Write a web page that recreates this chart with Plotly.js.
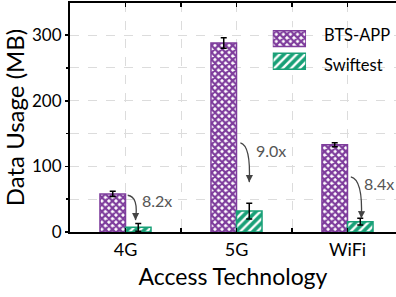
<!DOCTYPE html>
<html><head><meta charset="utf-8">
<script src="https://cdn.plot.ly/plotly-3.0.1.min.js"></script>
<style>html,body{margin:0;padding:0;background:#fff}#chart{width:396px;height:297px}</style>
</head><body><div id="chart"></div>
<script>
const categories = ['4G', '5G', 'WiFi'];
const seriesNames = ['BTS-APP', 'Swiftest'];
const btsValues = [58, 288, 133];
const btsErrors = [4, 8, 3];
const swiftValues = [7.1, 32, 15.8];
const swiftErrors = [6, 12, 5];
const ratioLabels = ['8.2x', '9.0x', '8.4x'];
const yTickValues = [0, 100, 200, 300];

const PURPLE = '#7e3c9c';
const GREEN = '#18a077';
const FONT = 'Lato, "Open Sans", sans-serif';
const xIdx = categories.map((c, i) => i);

// arrow geometry (offsets from category index, y in data units)
const arrows = [
  {sx: 0.02, sy: 56, cx: 0.12, cy: 54, ex: 0.09, ey: 18, lx: 0.13, ly: 48},
  {sx: 1.035, sy: 136, cx: 1.13, cy: 132, ex: 1.115, ey: 76, lx: 1.16, ly: 124},
  {sx: 2.03, sy: 84, cx: 2.14, cy: 80, ex: 2.125, ey: 21, lx: 2.13, ly: 74}
];

const purplePattern = {shape: 'x', fillmode: 'replace', bgcolor: '#fff', fgcolor: PURPLE, size: 5, solidity: 0.7};
const greenPattern = {shape: '/', fillmode: 'replace', bgcolor: GREEN, fgcolor: '#fff', size: 6, solidity: 0.4};

const traces = [
  {
    type: 'bar', x: xIdx, y: btsValues, name: seriesNames[0], showlegend: false,
    error_y: {type: 'data', array: btsErrors, color: '#000', thickness: 1.5, width: 3},
    marker: {color: PURPLE, line: {color: PURPLE, width: 1.5}, pattern: purplePattern}
  },
  {
    type: 'bar', x: xIdx, y: swiftValues, name: seriesNames[1], showlegend: false,
    error_y: {type: 'data', array: swiftErrors, color: '#000', thickness: 1.5, width: 3},
    marker: {color: GREEN, line: {color: GREEN, width: 1.5}, pattern: greenPattern}
  },
  // legend swatches
  {
    type: 'bar', orientation: 'h', x: [1], y: [1], xaxis: 'x2', yaxis: 'y2', width: 0.7,
    showlegend: false, hoverinfo: 'skip',
    marker: {color: PURPLE, line: {color: PURPLE, width: 1.5}, pattern: purplePattern}
  },
  {
    type: 'bar', orientation: 'h', x: [1], y: [0], xaxis: 'x2', yaxis: 'y2', width: 0.7,
    showlegend: false, hoverinfo: 'skip',
    marker: {color: GREEN, line: {color: GREEN, width: 1.5}, pattern: greenPattern}
  }
];

const shapes = arrows.map(a => ({
  type: 'path', xref: 'x', yref: 'y',
  path: `M${a.sx},${a.sy} Q${a.cx},${a.cy} ${a.ex},${a.ey}`,
  line: {color: '#444', width: 1.3}
}));

const annotations = [];
arrows.forEach((a, i) => {
  annotations.push({
    x: a.ex, y: a.ey, ax: a.ex + 0.001, ay: a.ey + 8, xref: 'x', yref: 'y', axref: 'x', ayref: 'y',
    text: '', showarrow: true, arrowhead: 2, arrowsize: 1.1, arrowwidth: 1.3, arrowcolor: '#444', standoff: 0
  });
  annotations.push({
    x: a.lx, y: a.ly, xref: 'x', yref: 'y', text: ratioLabels[i], showarrow: false,
    xanchor: 'left', yanchor: 'middle', font: {family: FONT, size: 16, color: '#555'}
  });
});
// legend labels
annotations.push({x: 0.772, y: 0.859, xref: 'paper', yref: 'paper', text: seriesNames[0], showarrow: false,
  xanchor: 'left', yanchor: 'middle', font: {family: FONT, size: 16.5, color: '#000'}});
annotations.push({x: 0.772, y: 0.731, xref: 'paper', yref: 'paper', text: seriesNames[1], showarrow: false,
  xanchor: 'left', yanchor: 'middle', font: {family: FONT, size: 16.5, color: '#000'}});

const layout = {
  width: 396, height: 297,
  margin: {l: 70, r: 0, t: 3, b: 65},
  paper_bgcolor: '#fff', plot_bgcolor: '#fff',
  barmode: 'group', bargap: 0.54, bargroupgap: 0,
  font: {family: FONT, color: '#000'},
  xaxis: {
    range: [-0.5, 2.437], tickvals: xIdx, ticktext: categories,
    tickfont: {family: FONT, size: 18, color: '#000'},
    showline: true, linecolor: '#000', linewidth: 2, mirror: 'ticks',
    ticks: 'inside', ticklen: 4, tickcolor: '#000', tickwidth: 1.5,
    showgrid: true, gridcolor: '#dcdcdc', griddash: 'dash', gridwidth: 1,
    minor: {dtick: 0.5, tick0: 0.5, ticks: 'inside', ticklen: 4, tickcolor: '#000', showgrid: true, gridcolor: '#dcdcdc', griddash: 'dash'},
    zeroline: false,
    title: {text: 'Access Technology', font: {family: FONT, size: 23, color: '#000'}, standoff: 10}
  },
  yaxis: {
    range: [0, 349], tickvals: yTickValues,
    tickfont: {family: FONT, size: 17, color: '#000'},
    showline: true, linecolor: '#000', linewidth: 2,
    ticks: 'outside', ticklen: 3, tickcolor: '#000', tickwidth: 1.5,
    showgrid: true, gridcolor: '#dcdcdc', griddash: 'dash', gridwidth: 1,
    minor: {dtick: 50, ticks: 'outside', ticklen: 2, tickcolor: '#000', showgrid: true, gridcolor: '#dcdcdc', griddash: 'dash'},
    zeroline: false,
    title: {text: 'Data Usage (MB)', font: {family: FONT, size: 24, color: '#000'}, standoff: 4}
  },
  xaxis2: {domain: [0.622, 0.724], range: [0, 1], anchor: 'y2', visible: false, fixedrange: true},
  yaxis2: {domain: [0.696, 0.894], range: [-0.5, 1.5], anchor: 'x2', visible: false, fixedrange: true},
  shapes: shapes,
  annotations: annotations
};

Plotly.newPlot('chart', traces, layout, {displayModeBar: false, staticPlot: true});
</script></body></html>
